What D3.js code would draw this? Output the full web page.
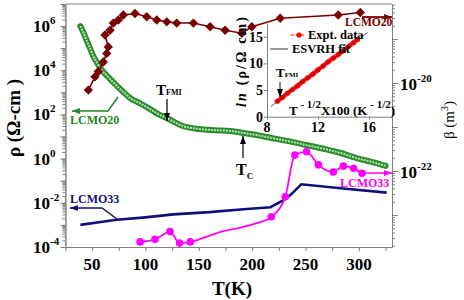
<!DOCTYPE html>
<html>
<head>
<meta charset="utf-8">
<script src="https://cdn.jsdelivr.net/npm/d3@7"></script>
<style>
  body { margin: 0; background: #fff; }
  svg { display: block; font-family: "Liberation Serif", "Times New Roman", serif; font-weight: bold; }
</style>
</head>
<body>
<svg id="chart" width="464" height="300"></svg>
<script>
// LCMO20 resistivity (green band)
const rho20T = [39, 42, 45, 48, 51, 54, 57, 64, 70, 79, 86, 95, 104, 111, 120, 135, 150, 165, 180, 192, 205, 217, 236, 250, 267, 283, 298, 312, 325];
const rho20 = [1.0e6, 5.0e5, 2.2e5, 1.0e5, 4.5e4, 2.5e4, 1.4e4, 5.6e3, 2.8e3, 1.07e3, 540, 320, 180, 110, 69, 30, 22, 19.5, 18, 14.5, 11.5, 8.8, 5.9, 4.2, 2.8, 1.8, 1.05, 0.71, 0.47];

// LCMO33 resistivity (navy line)
const rho33T = [39, 73, 100, 126, 160, 189, 217, 229, 236, 246, 283, 326];
const rho33 = [1.0e-3, 1.7e-3, 2.2e-3, 3.0e-3, 3.8e-3, 5.0e-3, 6.3e-3, 1.3e-2, 2.3e-2, 6.9e-2, 4.6e-2, 2.9e-2];

// LCMO20 beta (dark red diamonds, right axis)
const beta20T = [46.5, 52.7, 55.8, 60.5, 63.7, 65.2, 62.1, 66.8, 69.9, 74.6, 79.3, 90.2, 101.2, 110.6, 120, 129.3, 144.9, 160.6, 174.6, 190.3, 199.7, 226.3, 280.6, 301.3];
const beta20 = [6.9e-21, 1.38e-20, 1.82e-20, 3.0e-20, 4.7e-20, 6.6e-20, 1.23e-19, 1.58e-19, 2.3e-19, 2.7e-19, 3.5e-19, 3.8e-19, 3.2e-19, 2.7e-19, 2.45e-19, 2.3e-19, 2.3e-19, 1.9e-19, 1.58e-19, 1.35e-19, 1.9e-19, 2.95e-19, 3.5e-19, 4.0e-19];

// LCMO33 beta (magenta markers, right axis) and extra points read on its line
const beta33T = [95, 109, 123, 132, 142, 218, 231, 240, 251, 262, 276, 285.5, 295, 303];
const beta33 = [2.45e-24, 2.8e-24, 4.2e-24, 2.3e-24, 2.45e-24, 9.1e-24, 2.6e-23, 2.3e-22, 2.75e-22, 1.38e-22, 9.5e-23, 1.29e-22, 1.15e-22, 8.9e-23];
const beta33LineT = [157, 173, 189, 205];
const beta33Line = [3.2e-24, 4.3e-24, 5.2e-24, 6.6e-24];

// inset: ln(rho) vs T^-1/2 x100
const insetX = [8.8, 9.2, 9.6, 10.0, 10.4, 10.8, 11.2, 11.6, 12.0, 12.4, 12.8, 13.2, 13.6, 14.0, 14.4, 14.8, 15.1];
const insetY = [2.9, 3.6, 4.4, 5.1, 5.8, 6.6, 7.3, 8.0, 8.8, 9.5, 10.3, 11.0, 11.7, 12.4, 13.2, 13.9, 14.5];
const fitX = [8.3, 15.9];
const fitY = [1.9, 15.8];

// tick labels
const xTickLabels = [50, 100, 150, 200, 250, 300];
const rhoTickExp = [-4, -2, 0, 2, 4, 6];
const betaTickExp = [-22, -20];
const insetXTicks = [8, 12, 16];
const insetYTicks = [0, 5, 10, 15];

const svg = d3.select('#chart');
const grey = '#808080';

const x = d3.scaleLinear().domain([25, 331]).range([65.4, 392]);
const yRho = d3.scaleLog().domain([1e-4, 1e7]).range([247, 4]);
const yBeta = d3.scaleLog().domain([Math.pow(10, -23.727), Math.pow(10, -18.205)]).range([247, 4]);

const xi = d3.scaleLinear().domain([8, 17.8]).range([267, 392]);
const yi = d3.scaleLinear().domain([0, 17.5]).range([116.7, 23.4]);

// arrow markers
const defs = svg.append('defs');
function arrowHead(id, color) {
  defs.append('marker')
    .attr('id', id)
    .attr('markerUnits', 'userSpaceOnUse')
    .attr('markerWidth', 8).attr('markerHeight', 6)
    .attr('refX', 8).attr('refY', 3)
    .attr('orient', 'auto')
    .append('path').attr('d', 'M0,0 L8,3 L0,6 Z').attr('fill', color);
}
arrowHead('ahGreen', '#1f8a1f');
arrowHead('ahNavy', '#10107a');
arrowHead('ahBlack', '#000');
arrowHead('ahRed', '#7a0000');
arrowHead('ahMag', '#ff00ff');

// ---- axes ----
function styleAxis(g) {
  g.selectAll('path, line').attr('stroke', grey);
  g.selectAll('text').remove();
}

const minorRho = d3.range(-4, 7).flatMap(e => d3.range(1, 10).map(k => k * Math.pow(10, e))).filter(v => v >= 1e-4 && v <= 1e7);
const majorRho = d3.range(-4, 8).map(e => Math.pow(10, e));
svg.append('g').attr('transform', 'translate(65.4,0)')
  .call(d3.axisLeft(yRho).tickValues(minorRho).tickSize(3).tickSizeOuter(0)).call(styleAxis);
svg.append('g').attr('transform', 'translate(65.4,0)')
  .call(d3.axisLeft(yRho).tickValues(majorRho).tickSize(5).tickSizeOuter(0)).call(styleAxis);

const bLo = yBeta.domain()[0], bHi = yBeta.domain()[1];
const minorBeta = d3.range(-24, -18).flatMap(e => d3.range(1, 10).map(k => k * Math.pow(10, e))).filter(v => v >= bLo && v <= bHi);
const majorBeta = d3.range(-23, -18).map(e => Math.pow(10, e));
svg.append('g').attr('transform', 'translate(392,0)')
  .call(d3.axisRight(yBeta).tickValues(minorBeta).tickSize(3).tickSizeOuter(0)).call(styleAxis);
svg.append('g').attr('transform', 'translate(392,0)')
  .call(d3.axisRight(yBeta).tickValues(majorBeta).tickSize(6).tickSizeOuter(0)).call(styleAxis);

svg.append('g').attr('transform', 'translate(0,247)')
  .call(d3.axisBottom(x).tickValues(d3.range(25, 331, 25)).tickSize(4).tickSizeOuter(0)).call(styleAxis);

svg.append('line').attr('x1', 65.4).attr('x2', 392).attr('y1', 4).attr('y2', 4).attr('stroke', grey);

// tick labels
svg.append('g').selectAll('text').data(xTickLabels).join('text')
  .attr('x', d => x(d)).attr('y', 270).attr('text-anchor', 'middle')
  .style('font-size', '17px').text(d => d);

rhoTickExp.forEach(e => {
  const t = svg.append('text').attr('x', 33).attr('y', yRho(Math.pow(10, e)) + 6).style('font-size', '17px');
  t.append('tspan').text('10');
  t.append('tspan').attr('dy', -8).style('font-size', '11px').text(e);
});
betaTickExp.forEach(e => {
  const t = svg.append('text').attr('x', 400).attr('y', yBeta(Math.pow(10, e)) + 7).style('font-size', '17px');
  t.append('tspan').text('10');
  t.append('tspan').attr('dy', -8).style('font-size', '11px').text(e);
});

// axis titles
svg.append('text').attr('x', 232).attr('y', 295).attr('text-anchor', 'middle')
  .style('font-size', '19px').text('T(K)');
svg.append('text').attr('transform', 'translate(20,118) rotate(-90)').attr('text-anchor', 'middle')
  .style('font-size', '19px').text('ρ (Ω-cm )');
const bt = svg.append('text').attr('transform', 'translate(454,120) rotate(-90)').attr('text-anchor', 'middle')
  .style('font-size', '15px').style('font-weight', 'normal');
bt.append('tspan').text('β (m');
bt.append('tspan').attr('dy', -6).style('font-size', '10px').text('3');
bt.append('tspan').attr('dy', 6).text(')');

// ---- series ----
const lineRho = d3.line().x(d => x(d[0])).y(d => yRho(d[1]));
const lineBeta = d3.line().x(d => x(d[0])).y(d => yBeta(d[1]));

// LCMO33 rho
svg.append('path').datum(d3.zip(rho33T, rho33))
  .attr('d', lineRho).attr('fill', 'none').attr('stroke', '#10107a').attr('stroke-width', 2.6);

// LCMO33 beta
const mag = d3.zip(beta33T, beta33).concat(d3.zip(beta33LineT, beta33Line)).sort((a, b) => a[0] - b[0]);
svg.append('path').datum(mag)
  .attr('d', lineBeta.curve(d3.curveMonotoneX)).attr('fill', 'none').attr('stroke', '#ff00ff').attr('stroke-width', 1.8);
svg.append('g').selectAll('circle').data(d3.zip(beta33T, beta33)).join('circle')
  .attr('cx', d => x(d[0])).attr('cy', d => yBeta(d[1])).attr('r', 3.8).attr('fill', '#ff00ff');

// LCMO20 rho (band of open circles)
const green = d3.zip(rho20T, rho20);
const greenLine = lineRho.curve(d3.curveMonotoneX);
svg.append('path').datum(green).attr('d', greenLine).attr('fill', 'none')
  .attr('stroke', '#2a8c2a').attr('stroke-width', 6).attr('stroke-linecap', 'round');
svg.append('path').datum(green).attr('d', greenLine).attr('fill', 'none')
  .attr('stroke', '#b9e0b9').attr('stroke-width', 2).attr('stroke-dasharray', '2,1');

// LCMO20 beta
const red = d3.zip(beta20T, beta20);
svg.append('path').datum(red)
  .attr('d', d3.line().x(d => x(d[0])).y(d => yBeta(d[1])))
  .attr('fill', 'none').attr('stroke', '#7a0000').attr('stroke-width', 1.6);
svg.append('g').selectAll('path').data(red).join('path')
  .attr('d', d3.symbol().type(d3.symbolSquare).size(44))
  .attr('transform', d => `translate(${x(d[0])},${yBeta(d[1])}) rotate(45)`)
  .attr('fill', '#7a0000');

// ---- annotations ----
function label(txt, px, py, color, size) {
  svg.append('text').attr('x', px).attr('y', py).attr('fill', color).style('font-size', size + 'px').text(txt);
}
svg.append('path').attr('d', 'M118,97 L108,111 L72,111').attr('fill', 'none').attr('stroke', '#1f8a1f').attr('stroke-width', 1.5).attr('marker-end', 'url(#ahGreen)');
label('LCMO20', 70, 124, '#1f8a1f', 12);
svg.append('path').attr('d', 'M117,219 L102,208 L70,208').attr('fill', 'none').attr('stroke', '#10107a').attr('stroke-width', 1.5).attr('marker-end', 'url(#ahNavy)');
label('LCMO33', 70, 203, '#10107a', 12);
label('LCMO33', 340, 187, '#ff00ff', 12);
svg.append('path').attr('d', 'M362,173 L392,173').attr('stroke', '#ff00ff').attr('stroke-width', 1.5).attr('marker-end', 'url(#ahMag)');
svg.append('path').attr('d', 'M362,17 L392,17').attr('stroke', '#7a0000').attr('stroke-width', 1.8).attr('marker-end', 'url(#ahRed)');
label('LCMO20', 345, 26, '#7a0000', 11.5);

// T_FMI
svg.append('path').attr('d', 'M167,99 L167,121').attr('stroke', '#000').attr('stroke-width', 1.2).attr('marker-end', 'url(#ahBlack)');
const tf = svg.append('text').attr('x', 156).attr('y', 95).style('font-size', '15px');
tf.append('tspan').text('T');
tf.append('tspan').style('font-size', '8px').text('FMI');
// T_C
svg.append('path').attr('d', 'M243,158 L243,136').attr('stroke', '#000').attr('stroke-width', 1.2).attr('marker-end', 'url(#ahBlack)');
const tc = svg.append('text').attr('x', 236).attr('y', 175).style('font-size', '16px');
tc.append('tspan').text('T');
tc.append('tspan').attr('dy', 4).style('font-size', '9px').text('C');

// ---- inset ----
const inset = svg.append('g');
inset.append('g').attr('transform', 'translate(267,0)')
  .call(d3.axisLeft(yi).tickValues(insetYTicks).tickSize(3).tickSizeOuter(0)).call(styleAxis);
inset.append('g').attr('transform', 'translate(0,116.7)')
  .call(d3.axisBottom(xi).tickValues(insetXTicks).tickSize(3).tickSizeOuter(0)).call(styleAxis);
inset.append('g').selectAll('text').data(insetYTicks).join('text')
  .attr('x', 263).attr('y', d => yi(d) + 5).attr('text-anchor', 'end')
  .style('font-size', '14px').text(d => d);
inset.append('g').selectAll('text').data(insetXTicks).join('text')
  .attr('x', d => xi(d)).attr('y', 132).attr('text-anchor', 'middle')
  .style('font-size', '14px').text(d => d);

const ly = inset.append('text').attr('transform', 'translate(246,62) rotate(-90)').attr('text-anchor', 'middle')
  .style('font-size', '14px').attr('textLength', 90).attr('lengthAdjust', 'spacing');
ly.append('tspan').style('font-style', 'italic').text('ln');
ly.append('tspan').text(' (ρ/Ω cm)');

const xt = inset.append('text').attr('x', 289).attr('y', 115).style('font-size', '13px');
xt.append('tspan').text('T');
xt.append('tspan').attr('dy', -7).style('font-size', '11px').text(' - 1/2');
xt.append('tspan').attr('dy', 7).text('X100 (K');
xt.append('tspan').attr('dy', -7).style('font-size', '11px').text(' - 1/2');
xt.append('tspan').attr('dy', 7).text(')');

// fit line and data
inset.append('path').datum(d3.zip(fitX, fitY))
  .attr('d', d3.line().x(d => xi(d[0])).y(d => yi(d[1])))
  .attr('stroke', '#333').attr('stroke-width', 0.8);
const pts = d3.zip(insetX, insetY);
inset.append('path').datum(pts)
  .attr('d', d3.line().x(d => xi(d[0])).y(d => yi(d[1])))
  .attr('fill', 'none').attr('stroke', '#ff1a1a').attr('stroke-width', 4.5);
inset.append('g').selectAll('circle').data(pts).join('circle')
  .attr('cx', d => xi(d[0])).attr('cy', d => yi(d[1])).attr('r', 2.6).attr('fill', '#ff0000');
inset.append('path').datum(pts)
  .attr('d', d3.line().x(d => xi(d[0])).y(d => yi(d[1])))
  .attr('fill', 'none').attr('stroke', '#222').attr('stroke-width', 0.6);

// inset T_FMI
inset.append('path').attr('d', 'M280,82 L280,97').attr('stroke', '#000').attr('stroke-width', 1).attr('marker-end', 'url(#ahBlack)');
const tf2 = inset.append('text').attr('x', 276).attr('y', 77).style('font-size', '13px');
tf2.append('tspan').text('T');
tf2.append('tspan').style('font-size', '7px').text('FMI');

// inset legend
inset.append('line').attr('x1', 291).attr('x2', 306).attr('y1', 35).attr('y2', 35)
  .attr('stroke', '#ff0000').attr('stroke-width', 1.2).attr('stroke-dasharray', '3,2');
inset.append('circle').attr('cx', 299).attr('cy', 35).attr('r', 2.6).attr('fill', '#ff0000');
label('Expt. data', 308, 39, '#000', 12.5);
inset.append('line').attr('x1', 270).attr('x2', 288).attr('y1', 49).attr('y2', 49)
  .attr('stroke', '#333').attr('stroke-width', 1);
label('ESVRH fit', 292, 53, '#000', 12.5);
</script>
</body>
</html>
